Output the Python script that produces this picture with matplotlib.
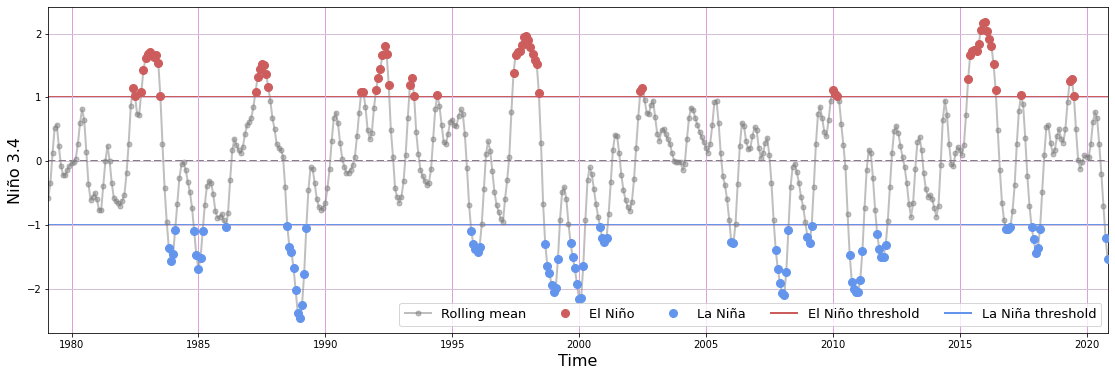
import matplotlib
matplotlib.use('Agg')
import matplotlib.pyplot as plt

# monthly rolling-mean Nino 3.4 index, Feb 1979 .. Nov 2020 (one row per year)
first_year, first_month = 1979, 2
nino34 = [
  -0.58, -0.34, 0.12, 0.52, 0.57, 0.23, -0.07, -0.22, -0.22, -0.14, -0.07,          # 1979 (Feb-)
  -0.03, -0.02, 0.04, 0.27, 0.60, 0.81, 0.64, 0.14, -0.36, -0.61, -0.56, -0.50,     # 1980
  -0.60, -0.77, -0.77, -0.39, 0.00, 0.24, 0.00, -0.34, -0.58, -0.63, -0.65, -0.70,  # 1981
  -0.62, -0.53, -0.19, 0.27, 0.86, 1.14, 1.02, 0.74, 0.73, 1.09, 1.43, 1.62,        # 1982
  1.68, 1.71, 1.67, 1.63, 1.67, 1.54, 1.02, 0.26, -0.43, -0.95, -1.36, -1.57,       # 1983
  -1.46, -1.08, -0.67, -0.26, -0.05, -0.02, -0.14, -0.33, -0.49, -0.74, -1.10, -1.47,  # 1984
  -1.69, -1.52, -1.10, -0.69, -0.39, -0.31, -0.34, -0.52, -0.78, -0.89, -0.88, -0.83,  # 1985
  -0.93, -1.04, -0.82, -0.29, 0.17, 0.35, 0.25, 0.17, 0.12, 0.22, 0.42, 0.56,       # 1986
  0.61, 0.68, 0.85, 1.09, 1.32, 1.45, 1.52, 1.50, 1.37, 1.16, 0.95, 0.67,           # 1987
  0.50, 0.27, 0.21, 0.18, 0.07, -0.40, -1.02, -1.34, -1.43, -1.68, -2.03, -2.39,    # 1988
  -2.46, -2.25, -1.77, -1.05, -0.46, -0.10, -0.12, -0.35, -0.60, -0.72, -0.76, -0.74,  # 1989
  -0.66, -0.43, -0.13, 0.31, 0.67, 0.76, 0.59, 0.28, 0.04, -0.09, -0.19, -0.18,     # 1990
  -0.14, -0.06, 0.07, 0.39, 0.76, 1.08, 1.08, 0.85, 0.49, 0.35, 0.44, 0.83,         # 1991
  1.11, 1.31, 1.44, 1.66, 1.80, 1.68, 1.19, 0.49, 0.07, -0.43, -0.57, -0.65,        # 1992
  -0.56, -0.32, 0.10, 0.67, 1.19, 1.31, 1.02, 0.45, 0.11, -0.14, -0.23, -0.31,      # 1993
  -0.37, -0.34, -0.13, 0.34, 0.82, 1.04, 0.86, 0.57, 0.30, 0.26, 0.42, 0.61,        # 1994
  0.65, 0.56, 0.55, 0.70, 0.81, 0.74, 0.42, -0.11, -0.69, -1.09, -1.30, -1.38,      # 1995
  -1.43, -1.34, -0.98, -0.44, 0.11, 0.31, 0.16, -0.16, -0.49, -0.69, -0.80, -0.91,  # 1996
  -0.96, -0.60, -0.30, 0.07, 0.77, 1.38, 1.67, 1.71, 1.73, 1.82, 1.95, 1.96,        # 1997
  1.90, 1.79, 1.68, 1.59, 1.52, 1.06, 0.29, -0.67, -1.30, -1.64, -1.76, -1.94,      # 1998
  -2.05, -1.99, -1.54, -0.92, -0.48, -0.41, -0.60, -0.98, -1.29, -1.51, -1.68, -1.93,  # 1999
  -2.16, -2.14, -1.64, -0.92, -0.30, -0.10, -0.20, -0.44, -0.67, -0.87, -1.04, -1.21,  # 2000
  -1.27, -1.21, -0.83, -0.33, 0.17, 0.41, 0.39, 0.12, -0.22, -0.46, -0.61, -0.72,   # 2001
  -0.78, -0.64, -0.28, 0.20, 0.69, 1.10, 1.15, 0.96, 0.76, 0.74, 0.88, 0.95,        # 2002
  0.69, 0.42, 0.32, 0.48, 0.50, 0.42, 0.34, 0.27, 0.12, 0.00, -0.01, -0.01,         # 2003
  -0.01, -0.14, -0.04, 0.34, 0.68, 0.84, 0.80, 0.67, 0.56, 0.46, 0.37, 0.30,        # 2004
  0.20, 0.13, 0.27, 0.56, 0.93, 0.95, 0.60, 0.12, -0.23, -0.38, -0.60, -0.92,       # 2005
  -1.27, -1.29, -0.98, -0.36, 0.23, 0.60, 0.55, 0.31, 0.19, 0.21, 0.39, 0.53,       # 2006
  0.48, 0.20, 0.05, 0.12, 0.28, 0.36, 0.09, -0.35, -0.92, -1.39, -1.70, -1.91,      # 2007
  -2.07, -2.10, -1.74, -1.08, -0.41, -0.09, -0.04, -0.17, -0.35, -0.57, -0.72, -0.95,  # 2008
  -1.19, -1.29, -1.02, -0.41, 0.26, 0.74, 0.85, 0.67, 0.45, 0.39, 0.64, 0.95,       # 2009
  1.11, 1.05, 1.02, 0.95, 0.58, 0.25, -0.10, -0.83, -1.48, -1.89, -2.00, -2.05,     # 2010
  -2.05, -1.86, -1.41, -0.74, -0.14, 0.18, 0.12, -0.27, -0.76, -1.15, -1.38, -1.50,  # 2011
  -1.50, -1.32, -0.94, -0.40, 0.12, 0.47, 0.55, 0.44, 0.23, 0.06, -0.10, -0.35,     # 2012
  -0.67, -0.88, -0.65, -0.13, 0.30, 0.38, 0.17, -0.19, -0.44, -0.56, -0.53, -0.59,  # 2013
  -0.74, -0.87, -0.70, -0.06, 0.64, 0.95, 0.73, 0.26, -0.05, -0.08, 0.12, 0.22,     # 2014
  0.18, 0.09, 0.25, 0.73, 1.29, 1.67, 1.73, 1.74, 1.73, 1.84, 2.06, 2.16,           # 2015
  2.18, 2.04, 1.92, 1.80, 1.53, 1.12, 0.49, -0.14, -0.65, -0.93, -1.06, -1.07,      # 2016
  -1.04, -0.78, -0.38, 0.26, 0.79, 1.03, 0.89, 0.36, -0.23, -0.70, -1.03, -1.23,    # 2017
  -1.44, -1.36, -1.07, -0.49, 0.09, 0.54, 0.56, 0.29, 0.11, 0.17, 0.39, 0.50,       # 2018
  0.35, 0.29, 0.50, 0.92, 1.25, 1.28, 1.02, 0.50, 0.02, -0.12, -0.02, 0.09,         # 2019
  0.07, 0.06, 0.26, 0.61, 0.77, 0.67, 0.26, -0.20, -0.70, -1.21, -1.54,             # 2020 (-Nov)
]
el_nino_threshold = 1.0
la_nina_threshold = -1.0
year_ticks = list(range(1980, 2021, 5))

time = [first_year + (first_month - 1 + i) / 12 for i in range(len(nino34))]
el_t = [t for t, v in zip(time, nino34) if v > el_nino_threshold]
el_v = [v for v in nino34 if v > el_nino_threshold]
la_t = [t for t, v in zip(time, nino34) if v < la_nina_threshold]
la_v = [v for v in nino34 if v < la_nina_threshold]

fig = plt.figure(figsize=(1115 / 72, 376 / 72), dpi=72)
ax = fig.add_axes([48.3 / 1115, 43.3 / 376, (1107.7 - 48.3) / 1115, (332.7 - 7.3) / 376])

ax.grid(True, axis='x', color='plum', linewidth=1, zorder=0)
ax.grid(True, axis='y', color='thistle', linewidth=1, zorder=0)
ax.axhline(0, color='gray', linestyle='--', linewidth=2, zorder=1)
ax.plot(time, nino34, 'o-', color='gray', alpha=0.5, linewidth=2, markersize=5,
        label='Rolling mean', zorder=2)
ax.plot(el_t, el_v, 'o', color='indianred', markersize=8, label='El Niño', zorder=3)
ax.plot(la_t, la_v, 'o', color='cornflowerblue', markersize=8, label='La Niña', zorder=3)
ax.axhline(el_nino_threshold, color='indianred', linewidth=2, label='El Niño threshold', zorder=1)
ax.axhline(la_nina_threshold, color='cornflowerblue', linewidth=2, label='La Niña threshold', zorder=1)

ax.set_xlim(time[0], time[-1])
ax.set_xticks(year_ticks)
ax.set_yticks([-2, -1, 0, 1, 2])
ax.tick_params(labelsize=10)
ax.set_xlabel('Time', fontsize=16)
ax.set_ylabel('Niño 3.4', fontsize=16)
ax.legend(loc='lower right', ncol=5, fontsize=13)

fig.savefig('out.png', dpi=72)
